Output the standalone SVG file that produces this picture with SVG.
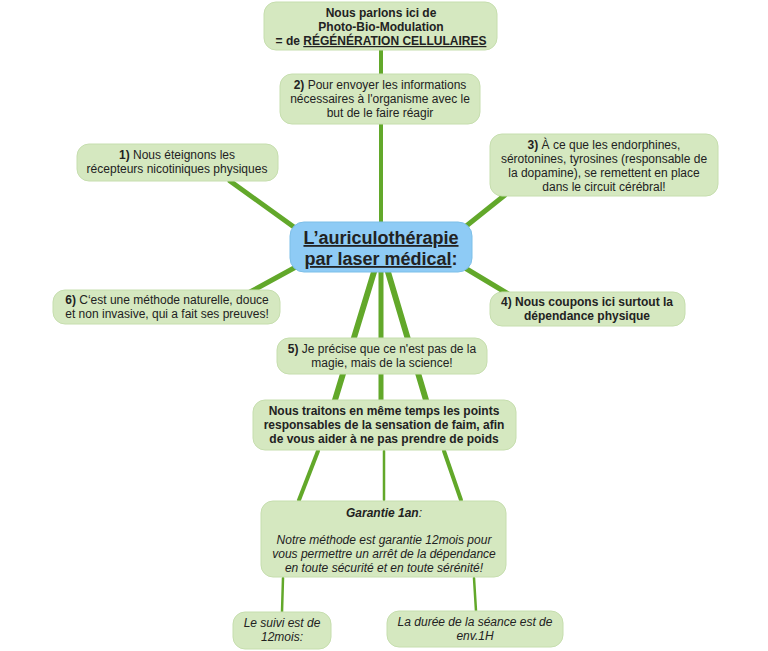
<svg xmlns="http://www.w3.org/2000/svg" width="768" height="651" viewBox="0 0 768 651">
<style>
.n{fill:#d5e8c0;stroke:#c6deae;stroke-width:1}
.t{font-family:"Liberation Sans",Arial,sans-serif;font-size:12px;fill:#222;text-anchor:middle}
.b{font-weight:bold}
.i{font-style:italic}
.big{font-size:18px}
.c{stroke:#62a82a;fill:none;stroke-linecap:round}
</style>
<rect width="768" height="651" fill="#fff"/>
<g id="connectors">
<path class="c" d="M381 50V222" stroke-width="4"/>
<path class="c" d="M305 235L230 181" stroke-width="5"/>
<path class="c" d="M455 235L505 195" stroke-width="5"/>
<path class="c" d="M305 262L250 292" stroke-width="5"/>
<path class="c" d="M460 265L510 295" stroke-width="5"/>
<path class="c" d="M374 272L335 400" stroke-width="6"/>
<path class="c" d="M381 272V400" stroke-width="5"/>
<path class="c" d="M388 272L426 400" stroke-width="6"/>
<path class="c" d="M318 451L299 500" stroke-width="4"/>
<path class="c" d="M384 451V500" stroke-width="2.5"/>
<path class="c" d="M444 451L461 500" stroke-width="4"/>
<path class="c" d="M283 578L282 612" stroke-width="2.5"/>
<path class="c" d="M474 578L476 611" stroke-width="2.5"/>
</g>
<g id="top"><rect class="n" x="264" y="2" width="233" height="48" rx="12"/>
<text class="t b" x="381" y="17">Nous parlons ici de</text>
<text class="t b" x="381" y="31">Photo-Bio-Modulation</text>
<text class="t b" x="381" y="45">= de <tspan text-decoration="underline">RÉGÉNÉRATION CELLULAIRES</tspan></text></g>
<g id="n2"><rect class="n" x="280" y="74" width="200" height="50" rx="12"/>
<text class="t" x="380" y="89"><tspan class="b">2)</tspan> Pour envoyer les informations</text>
<text class="t" x="380" y="103">nécessaires à l'organisme avec le</text>
<text class="t" x="380" y="117">but de le faire réagir</text></g>
<g id="n1"><rect class="n" x="77" y="144" width="201" height="37" rx="12"/>
<text class="t" x="177" y="159"><tspan class="b">1)</tspan> Nous éteignons les</text>
<text class="t" x="177" y="173">récepteurs nicotiniques physiques</text></g>
<g id="n3"><rect class="n" x="490" y="134" width="228" height="62" rx="12"/>
<text class="t" x="604" y="149"><tspan class="b">3)</tspan> À ce que les endorphines,</text>
<text class="t" x="604" y="163">sérotonines, tyrosines (responsable de</text>
<text class="t" x="604" y="177">la dopamine), se remettent en place</text>
<text class="t" x="604" y="191">dans le circuit cérébral!</text></g>
<g id="center"><rect x="290" y="222" width="182" height="50" rx="14" fill="#8ecbf5" stroke="#7dbfe8"/>
<text class="t b big" x="381" y="244" text-decoration="underline">L’auriculothérapie</text>
<text class="t b big" x="381" y="265"><tspan text-decoration="underline">par laser médical</tspan>:</text></g>
<g id="n6"><rect class="n" x="53" y="290" width="227" height="34" rx="12"/>
<text class="t" x="167" y="304"><tspan class="b">6)</tspan> C‘est une méthode naturelle, douce</text>
<text class="t" x="167" y="318">et non invasive, qui a fait ses preuves!</text></g>
<g id="n4"><rect class="n" x="490" y="292" width="195" height="34" rx="12"/>
<text class="t b" x="587" y="306">4) Nous coupons ici surtout la</text>
<text class="t b" x="587" y="320">dépendance physique</text></g>
<g id="n5"><rect class="n" x="277" y="338" width="210" height="36" rx="12"/>
<text class="t" x="382" y="353"><tspan class="b">5)</tspan> Je précise que ce n'est pas de la</text>
<text class="t" x="382" y="367">magie, mais de la science!</text></g>
<g id="faim"><rect class="n" x="253" y="400" width="263" height="50" rx="12"/>
<text class="t b" x="384" y="415">Nous traitons en même temps les points</text>
<text class="t b" x="384" y="429">responsables de la sensation de faim, afin</text>
<text class="t b" x="384" y="443">de vous aider à ne pas prendre de poids</text></g>
<g id="garantie"><rect class="n" x="261" y="501" width="245" height="76" rx="12"/>
<text class="t i" x="384" y="517"><tspan class="b">Garantie 1an</tspan>:</text>
<text class="t i" x="384" y="544">Notre méthode est garantie 12mois pour</text>
<text class="t i" x="384" y="558">vous permettre un arrêt de la dépendance</text>
<text class="t i" x="384" y="572">en toute sécurité et en toute sérénité!</text></g>
<g id="suivi"><rect class="n" x="233" y="612" width="98" height="37" rx="12"/>
<text class="t i" x="282" y="627">Le suivi est de</text>
<text class="t i" x="282" y="641">12mois:</text></g>
<g id="duree"><rect class="n" x="387" y="611" width="176" height="36" rx="12"/>
<text class="t i" x="475" y="626">La durée de la séance est de</text>
<text class="t i" x="475" y="640">env.1H</text></g>
</svg>
